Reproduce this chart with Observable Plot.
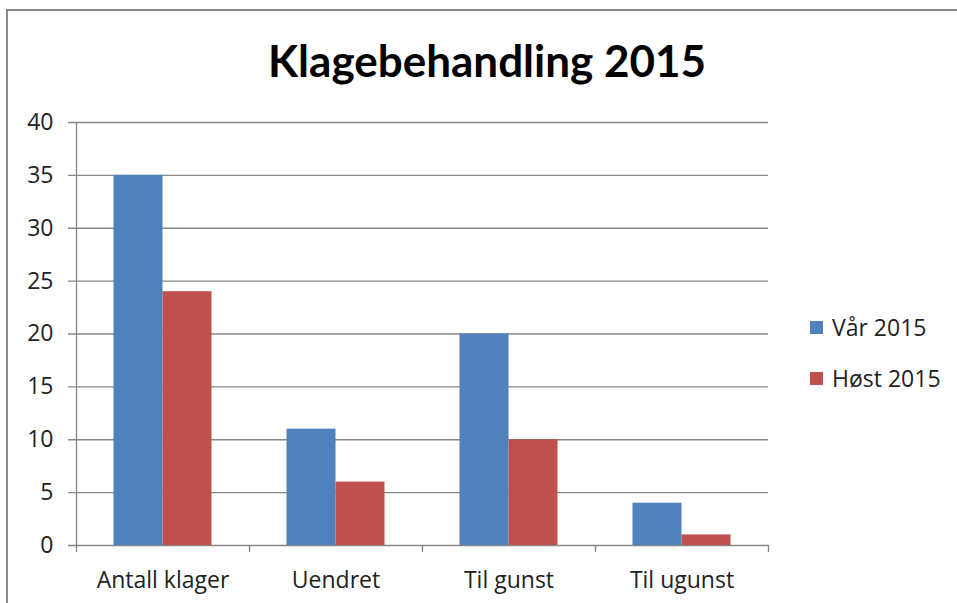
<!DOCTYPE html>
<html><head><meta charset="utf-8">
<script src="https://cdn.jsdelivr.net/npm/d3@7"></script>
<script src="https://cdn.jsdelivr.net/npm/@observablehq/plot@0.6"></script>
<style>
body{margin:0;background:#fff;}
#wrap{position:relative;width:957px;height:603px;overflow:hidden;font-family:"Open Sans",sans-serif;background:#fff;}
#frame{position:absolute;left:6px;top:9px;width:1000px;height:700px;border-top:2px solid #8a8a8a;border-left:2px solid #8a8a8a;}
#title{position:absolute;left:17px;width:940px;top:38px;text-align:center;font-family:Lato,sans-serif;font-size:44px;line-height:44px;font-weight:bold;color:#000;}
#chart{position:absolute;left:0;top:100px;}
.leg{position:absolute;left:810px;font-size:23px;line-height:23px;color:#222;display:flex;align-items:center;}
.sw{width:13px;height:13px;margin-right:9px;}
</style></head>
<body><div id="wrap"><div id="frame"></div><div id="title"></div><div id="chart"></div><div id="legend"></div></div>
<script>
const categories = ["Antall klager", "Uendret", "Til gunst", "Til ugunst"];
const seriesNames = ["Vår 2015", "Høst 2015"];
const varValues = [35, 11, 20, 4];
const hostValues = [24, 6, 10, 1];
const colors = ["#4F81BD", "#C0504D"];
const yTicks = [0, 5, 10, 15, 20, 25, 30, 35, 40];
const title = "Klagebehandling 2015";

document.getElementById("title").textContent = title;

const varData = categories.map((c, i) => ({cat: c, value: varValues[i]}));
const hostData = categories.map((c, i) => ({cat: c, value: hostValues[i]}));

const W = 957, H = 503, mL = 76, mR = 189, mT = 22, mB = 58;
const step = (W - mL - mR) / categories.length;
const barW = 49;
const pin = 1 - barW / step;

const gridColor = "#868686";

const chart = Plot.plot({
  width: W, height: H,
  marginLeft: mL, marginRight: mR, marginTop: mT, marginBottom: mB,
  style: {fontSize: "23px", fontFamily: "'Open Sans', sans-serif", color: "#222", background: "transparent"},
  x: {domain: categories, paddingInner: pin, paddingOuter: pin / 2, tickSize: 0, tickPadding: 26, label: null},
  y: {domain: [0, 40], ticks: yTicks, tickSize: 0, tickPadding: 23, label: null},
  marks: [
    Plot.ruleY(yTicks, {y: d => d, stroke: gridColor, strokeWidth: 1.3, insetLeft: -8}),
    Plot.barY(varData, {x: "cat", y: "value", fill: colors[0], dx: -barW / 2}),
    Plot.barY(hostData, {x: "cat", y: "value", fill: colors[1], dx: barW / 2}),
    Plot.ruleX([categories[0]], {x: d => d, dx: -step / 2, y1: 40, y2: 0, insetBottom: -7, stroke: gridColor, strokeWidth: 1.3}),
    Plot.ruleX(categories.slice(1), {x: d => d, dx: -step / 2, y1: 0, y2: 0, insetBottom: -7, stroke: gridColor, strokeWidth: 1.3}),
    Plot.ruleX([categories[categories.length - 1]], {x: d => d, dx: step / 2, y1: 0, y2: 0, insetBottom: -7, stroke: gridColor, strokeWidth: 1.3})
  ]
});
document.getElementById("chart").appendChild(chart);

const legend = document.getElementById("legend");
const legendTops = [316, 367];
seriesNames.forEach((name, i) => {
  const item = document.createElement("div");
  item.className = "leg";
  item.style.top = legendTops[i] + "px";
  const sw = document.createElement("div");
  sw.className = "sw";
  sw.style.background = colors[i];
  const t = document.createElement("span");
  t.textContent = name;
  item.appendChild(sw);
  item.appendChild(t);
  legend.appendChild(item);
});
</script>
</body></html>
